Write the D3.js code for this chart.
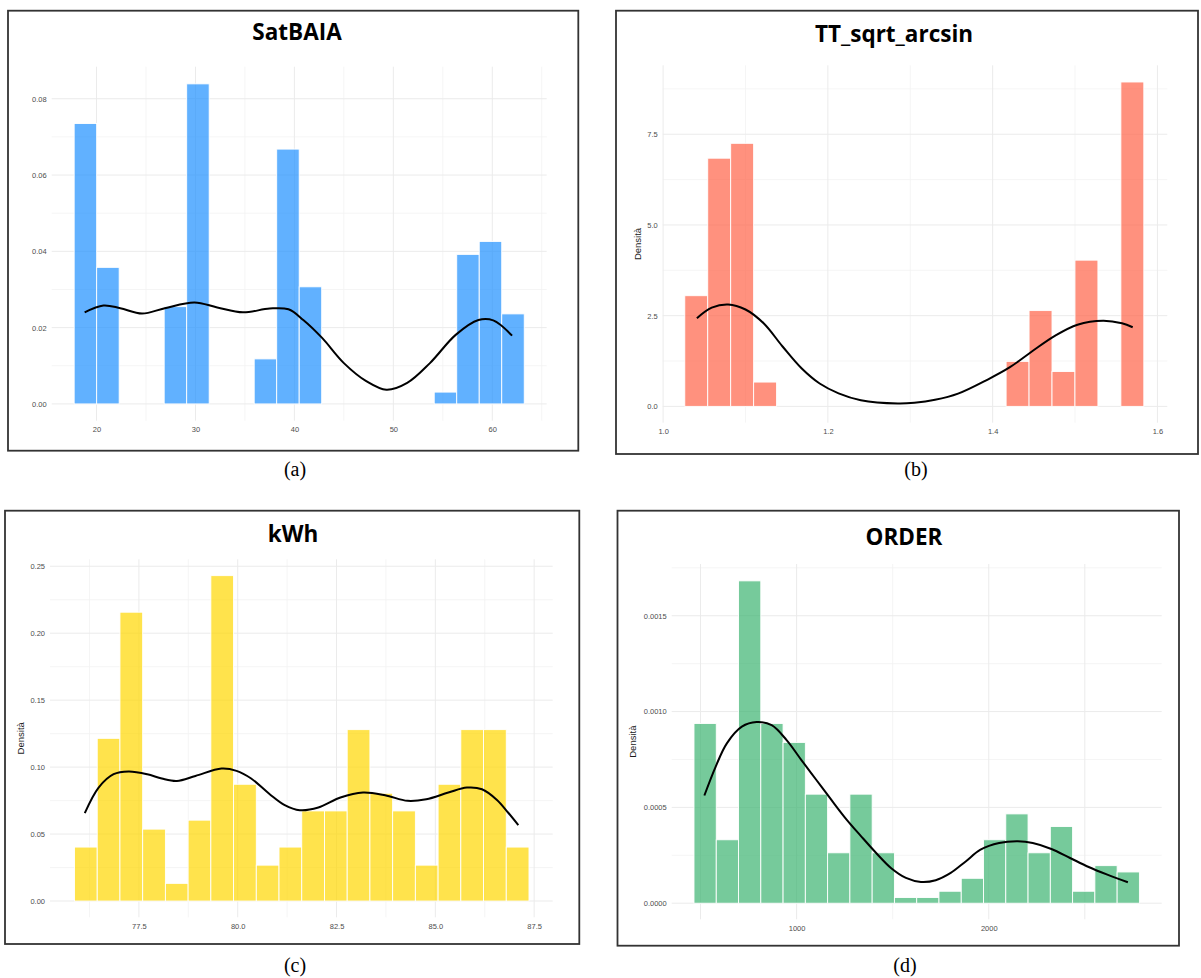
<!DOCTYPE html>
<html>
<head>
<meta charset="utf-8">
<script src="https://cdn.jsdelivr.net/npm/d3@7"></script>
<style>
  html, body { margin: 0; padding: 0; background: #fff; }
  svg { display: block; }
</style>
</head>
<body>
<svg id="chart" width="1201" height="978"></svg>
<script>
// ---------------- DATA ----------------
// (a) SatBAIA
const satTitle = "SatBAIA";
const satBinStart = 17.74, satBinWidth = 2.2745;
const satHeights = [0.0735, 0.0358, 0, 0, 0.0255, 0.0839, 0, 0, 0.0118, 0.0668,
                    0.0307, 0, 0, 0, 0, 0, 0.0031, 0.0392, 0.0426, 0.0236];
const satKdeX = [18.8, 20.7, 22.4, 24.6, 26.9, 29.9, 32.2, 34.8, 37.5, 39.4, 40.9, 42.8, 45.0, 47.3, 49.3, 51.4, 53.7, 56.3, 58.6, 60.1, 62.0];
const satKdeY = [0.0240, 0.0258, 0.0251, 0.0237, 0.0251, 0.0266, 0.0253, 0.0240, 0.0250, 0.0248, 0.0220, 0.0173, 0.0107, 0.0059, 0.0037, 0.0055, 0.0107, 0.0181, 0.0220, 0.0219, 0.0179];
const satXTicks = [20, 30, 40, 50, 60];
const satYTicks = [0, 0.02, 0.04, 0.06, 0.08];

// (b) TT_sqrt_arcsin
const ttTitle = "TT_sqrt_arcsin";
const ttBinStart = 1.0263, ttBinWidth = 0.02786;
const ttHeights = [3.05, 6.84, 7.25, 0.67, 0, 0, 0, 0, 0, 0,
                   0, 0, 0, 0, 1.24, 2.64, 0.96, 4.03, 0, 8.94];
const ttKdeX = [1.041, 1.059, 1.079, 1.100, 1.122, 1.145, 1.168, 1.190, 1.213, 1.240, 1.285, 1.305, 1.330, 1.358, 1.394, 1.421, 1.448, 1.476, 1.503, 1.534, 1.557, 1.570];
const ttKdeY = [2.43, 2.72, 2.81, 2.67, 2.29, 1.65, 1.05, 0.63, 0.36, 0.17, 0.08, 0.10, 0.18, 0.35, 0.74, 1.08, 1.52, 1.95, 2.25, 2.36, 2.29, 2.18];
const ttXTicks = [1.0, 1.2, 1.4, 1.6];
const ttYTicks = [0, 2.5, 5.0, 7.5];

// (c) kWh
const kwhTitle = "kWh";
const kwhBinStart = 75.87, kwhBinWidth = 0.575;
const kwhHeights = [0.0403, 0.1215, 0.2157, 0.0537, 0.0132, 0.0604, 0.2430, 0.0872, 0.0268, 0.0403,
                    0.0673, 0.0673, 0.1280, 0.0805, 0.0673, 0.0268, 0.0872, 0.1280, 0.1280, 0.0403];
const kwhKdeX = [76.13, 76.48, 76.86, 77.24, 77.71, 78.08, 78.46, 78.93, 79.59, 79.97, 80.34, 80.81, 81.19, 81.57, 82.04, 82.60, 83.17, 83.73, 84.30, 84.77, 85.33, 85.80, 86.18, 86.56, 86.84, 87.10];
const kwhKdeY = [0.0656, 0.0847, 0.0947, 0.0967, 0.0947, 0.0915, 0.0897, 0.0934, 0.0989, 0.0972, 0.0915, 0.0798, 0.0716, 0.0678, 0.0698, 0.0773, 0.0810, 0.0790, 0.0748, 0.0760, 0.0810, 0.0847, 0.0835, 0.0755, 0.0661, 0.0567];
const kwhXTicks = [77.5, 80.0, 82.5, 85.0, 87.5];
const kwhYTicks = [0, 0.05, 0.10, 0.15, 0.20, 0.25];

// (d) ORDER
const ordTitle = "ORDER";
const ordBinStart = 466, ordBinWidth = 115.9;
const ordHeights = [0.000938, 0.000331, 0.001682, 0.000938, 0.000839, 0.000569, 0.000263, 0.000569, 0.000263, 0.0000295,
                    0.0000295, 0.0000624, 0.000130, 0.000331, 0.000466, 0.000263, 0.000400, 0.0000624, 0.000196, 0.000163];
const ordKdeX = [520, 579, 637, 715, 792, 870, 948, 1025, 1103, 1181, 1258, 1336, 1414, 1491, 1569, 1647, 1724, 1802, 1880, 1957, 2054, 2151, 2229, 2326, 2423, 2520, 2617, 2724];
const ordKdeY = [0.000562, 0.000713, 0.000834, 0.000921, 0.000945, 0.000929, 0.000851, 0.000747, 0.000643, 0.000539, 0.000439, 0.000349, 0.000262, 0.000184, 0.000132, 0.000111, 0.000120, 0.000158, 0.000218, 0.000279, 0.000314, 0.000323, 0.000314, 0.000283, 0.000236, 0.000189, 0.000149, 0.000109];
const ordXTicks = [1000, 2000];
const ordYTicks = [0, 0.0005, 0.0010, 0.0015];

const captions = ["(a)", "(b)", "(c)", "(d)"];
const yLabel = "Densità";

// ---------------- DRAWING ----------------
const svg = d3.select("#chart");
svg.append("rect").attr("width", 1201).attr("height", 978).attr("fill", "#fff");

function panel(cfg) {
  const g = svg.append("g");
  const x = d3.scaleLinear().domain(cfg.xDomain).range([cfg.plot.x0, cfg.plot.x1]);
  const y = d3.scaleLinear().domain(cfg.yDomain).range([cfg.plot.y1, cfg.plot.y0]);

  // frame
  g.append("rect")
    .attr("x", cfg.frame.x0).attr("y", cfg.frame.y0)
    .attr("width", cfg.frame.x1 - cfg.frame.x0).attr("height", cfg.frame.y1 - cfg.frame.y0)
    .attr("fill", "#fff").attr("stroke", "#333").attr("stroke-width", 1.8);

  // minor grid
  const grid = g.append("g");
  cfg.xMinor.filter(v => v >= cfg.xDomain[0] && v <= cfg.xDomain[1]).forEach(v => {
    grid.append("line").attr("x1", x(v)).attr("x2", x(v))
      .attr("y1", cfg.plot.y0).attr("y2", cfg.plot.y1)
      .attr("stroke", "#f2f2f2").attr("stroke-width", 0.8);
  });
  cfg.yMinor.filter(v => v >= cfg.yDomain[0] && v <= cfg.yDomain[1]).forEach(v => {
    grid.append("line").attr("y1", y(v)).attr("y2", y(v))
      .attr("x1", cfg.plot.x0).attr("x2", cfg.plot.x1)
      .attr("stroke", "#f2f2f2").attr("stroke-width", 0.8);
  });
  // major grid
  cfg.xMajor.forEach(v => {
    grid.append("line").attr("x1", x(v)).attr("x2", x(v))
      .attr("y1", cfg.plot.y0).attr("y2", cfg.plot.y1)
      .attr("stroke", "#ebebeb").attr("stroke-width", 1);
  });
  cfg.yTicks.forEach(v => {
    grid.append("line").attr("y1", y(v)).attr("y2", y(v))
      .attr("x1", cfg.plot.x0).attr("x2", cfg.plot.x1)
      .attr("stroke", "#ebebeb").attr("stroke-width", 1);
  });

  // bars
  const bins = cfg.heights.map((h, i) => ({
    x0: cfg.binStart + i * cfg.binWidth,
    x1: cfg.binStart + (i + 1) * cfg.binWidth,
    h: h
  })).filter(d => d.h > 0);
  g.append("g").selectAll("rect").data(bins).join("rect")
    .attr("x", d => x(d.x0))
    .attr("width", d => x(d.x1) - x(d.x0))
    .attr("y", d => y(d.h))
    .attr("height", d => y(0) - y(d.h))
    .attr("fill", cfg.color).attr("fill-opacity", 0.7)
    .attr("stroke", "#fff").attr("stroke-width", 0.9);

  // density
  const pts = cfg.kdeX.map((v, i) => [v, cfg.kdeY[i]]);
  g.append("path").datum(pts)
    .attr("d", d3.line().x(d => x(d[0])).y(d => y(d[1])).curve(d3.curveCatmullRom.alpha(0.5)))
    .attr("fill", "none").attr("stroke", "#000").attr("stroke-width", 2);

  // axes (text only, like ggplot theme_minimal)
  const xAxis = g.append("g").attr("transform", `translate(0,${cfg.plot.y1})`)
    .call(d3.axisBottom(x).tickValues(cfg.xTicks).tickFormat(cfg.xFmt).tickSize(0).tickPadding(6));
  const yAxis = g.append("g").attr("transform", `translate(${cfg.plot.x0},0)`)
    .call(d3.axisLeft(y).tickValues(cfg.yTicks).tickFormat(cfg.yFmt).tickSize(0).tickPadding(5));
  [xAxis, yAxis].forEach(a => {
    a.select(".domain").remove();
    a.selectAll("text").attr("fill", "#4d4d4d")
      .style("font-family", "'Liberation Sans', Arial, sans-serif").style("font-size", "7.5px");
  });

  // y label
  if (cfg.showYLabel) {
    g.append("text")
      .attr("transform", `translate(${cfg.yLabelX},${(cfg.plot.y0 + cfg.plot.y1) / 2}) rotate(-90)`)
      .attr("text-anchor", "middle")
      .style("font-family", "'Liberation Sans', Arial, sans-serif").style("font-size", "9.5px")
      .attr("fill", "#1a1a1a").text(yLabel);
  }

  // title
  g.append("text").attr("x", cfg.titleX).attr("y", cfg.titleY)
    .attr("text-anchor", "middle")
    .style("font-family", "'Open Sans', sans-serif").style("font-weight", "700").style("font-size", "22.5px")
    .attr("fill", "#000").text(cfg.title);

  // caption
  g.append("text").attr("x", cfg.capX).attr("y", cfg.capY)
    .attr("text-anchor", "middle")
    .style("font-family", "'Liberation Serif', 'Times New Roman', serif").style("font-size", "20px")
    .attr("fill", "#000").text(cfg.caption);
}

const f2 = d3.format(".2f"), f1 = d3.format(".1f"), f4 = d3.format(".4f"), f0 = d3.format("d");

panel({
  title: satTitle, caption: captions[0], color: "#1e90ff",
  frame: {x0: 8, y0: 10.7, x1: 578.3, y1: 450.7},
  plot: {x0: 51.7, x1: 546.7, y0: 66.7, y1: 420.7},
  xDomain: [15.47, 65.5], yDomain: [-0.0044, 0.0884],
  binStart: satBinStart, binWidth: satBinWidth, heights: satHeights,
  kdeX: satKdeX, kdeY: satKdeY,
  xTicks: satXTicks, yTicks: satYTicks, xMajor: satXTicks,
  xMinor: [15, 25, 35, 45, 55, 65], yMinor: [0.01, 0.03, 0.05, 0.07],
  xFmt: f0, yFmt: f2, showYLabel: false,
  titleX: 297, titleY: 39.5, capX: 295, capY: 476
});

panel({
  title: ttTitle, caption: captions[1], color: "#ff6347",
  frame: {x0: 616, y0: 10.7, x1: 1198, y1: 454},
  plot: {x0: 662.7, x1: 1167.3, y0: 65.3, y1: 422.7},
  xDomain: [0.9995, 1.612], yDomain: [-0.45, 9.4],
  binStart: ttBinStart, binWidth: ttBinWidth, heights: ttHeights,
  kdeX: ttKdeX, kdeY: ttKdeY,
  xTicks: ttXTicks, yTicks: ttYTicks, xMajor: ttXTicks,
  xMinor: [1.1, 1.3, 1.5], yMinor: [1.25, 3.75, 6.25, 8.75],
  xFmt: f1, yFmt: f1, showYLabel: true, yLabelX: 641,
  titleX: 894, titleY: 41.7, capX: 916, capY: 476
});

panel({
  title: kwhTitle, caption: captions[2], color: "#ffd700",
  frame: {x0: 5, y0: 510.7, x1: 579.3, y1: 944},
  plot: {x0: 50, x1: 552.7, y0: 559.3, y1: 917.3},
  xDomain: [75.25, 87.97], yDomain: [-0.01215, 0.2552],
  binStart: kwhBinStart, binWidth: kwhBinWidth, heights: kwhHeights,
  kdeX: kwhKdeX, kdeY: kwhKdeY,
  xTicks: kwhXTicks, yTicks: kwhYTicks, xMajor: kwhXTicks,
  xMinor: [76.25, 78.75, 81.25, 83.75, 86.25], yMinor: [0.025, 0.075, 0.125, 0.175, 0.225],
  xFmt: f1, yFmt: f2, showYLabel: true, yLabelX: 24,
  titleX: 293, titleY: 542.3, capX: 295, capY: 972
});

panel({
  title: ordTitle, caption: captions[3], color: "#3cb371",
  frame: {x0: 617.5, y0: 510.7, x1: 1179, y1: 945.7},
  plot: {x0: 671.7, x1: 1161.7, y0: 564, y1: 919.3},
  xDomain: [350, 2900], yDomain: [-0.000084, 0.00177],
  binStart: ordBinStart, binWidth: ordBinWidth, heights: ordHeights,
  kdeX: ordKdeX, kdeY: ordKdeY,
  xTicks: ordXTicks, yTicks: ordYTicks, xMajor: [500, 1000, 2000, 2500],
  xMinor: [1500], yMinor: [0.00025, 0.00075, 0.00125, 0.00175],
  xFmt: f0, yFmt: f4, showYLabel: true, yLabelX: 636,
  titleX: 904, titleY: 545, capX: 905, capY: 972
});
</script>
</body>
</html>
